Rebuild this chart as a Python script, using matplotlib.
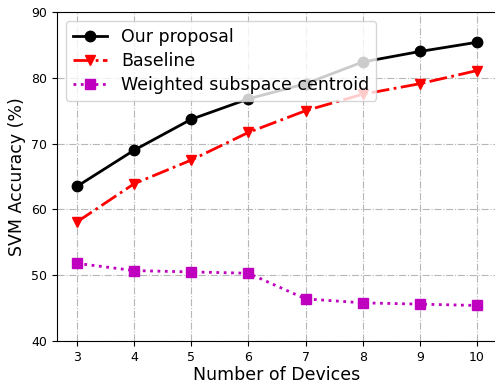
import matplotlib
matplotlib.use('Agg')
import matplotlib.pyplot as plt

# 数据
devices = [3, 4, 5, 6, 7, 8, 9, 10]
our_proposal = [63.5, 69.0, 73.7, 76.8, 79.1, 82.4, 84.0, 85.4]
baseline = [58.1, 63.9, 67.5, 71.7, 75.0, 77.5, 79.1, 81.1]
weighted = [51.8, 50.7, 50.5, 50.3, 46.4, 45.8, 45.6, 45.4]

fig = plt.figure(figsize=(4.95, 3.84), dpi=100)
ax = fig.add_axes([57 / 495, 1 - 341 / 384, 440 / 495, 329 / 384])

ax.plot(devices, our_proposal, '-', color='black', marker='o', markersize=7.5,
        linewidth=2, label='Our proposal')
ax.plot(devices, baseline, '-.', color='red', marker='v', markersize=7.5,
        linewidth=2, label='Baseline')
ax.plot(devices, weighted, ':', color='m', marker='s', markersize=7.5,
        linewidth=2, label='Weighted subspace centroid')

ax.set_xlim(2.65, 10.35)
ax.set_ylim(40, 90)
ax.set_xticks(devices)
ax.set_yticks([40, 50, 60, 70, 80, 90])
ax.tick_params(labelsize=9)
ax.grid(True, linestyle='-.', color='#b0b0b0', alpha=0.9)
ax.set_xlabel('Number of Devices', fontsize=12.5, labelpad=2)
ax.set_ylabel('SVM Accuracy (%)', fontsize=12.5)
ax.legend(loc='upper left', fontsize=12.5, labelspacing=0.35)

fig.savefig('out.png', dpi=100)
